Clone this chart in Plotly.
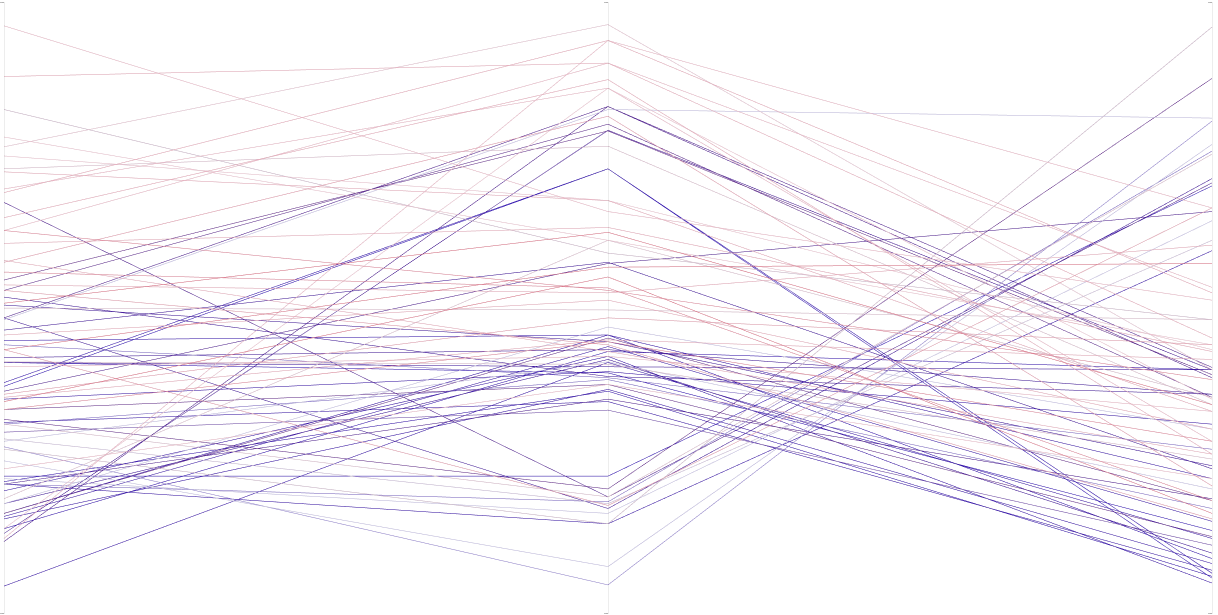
import plotly.graph_objects as go

# Values on three parallel axes (0-100 scale), one entry per line
axis_a = [37.1, 37.7, 4.4, 44.6, 41.0, 31.2, 22.4, 21.5, 15.8, 13.8, 21.1, 16.3, 51.7, 41.0, 20.0, 29.6,
          27.2, 24.9, 11.7, 48.3, 13.0, 67.2, 52.8, 36.3, 48.3, 21.1, 31.7, 50.4, 33.3, 16.3,
          96.1, 87.8, 82.4, 77.9, 76.3, 72.7, 72.2, 69.4, 68.8, 64.7, 62.6, 60.5, 57.4, 55.8, 53.7,
          50.7, 45.5, 43.1, 34.6, 33.3, 49.9, 40.3, 28.1, 17.9, 13.8, 12.2, 26.8, 43.1, 30.9, 22.0,
          48.0, 57.7, 35.8, 23.6, 74.8, 18.7,
          41.8, 35.0, 30.9, 41.1, 52.8, 17.9, 15.4, 54.5, 46.3, 28.5, 35.3, 62.6, 21.1, 43.9]
axis_b = [72.7, 72.7, 41.0, 45.5, 39.3, 34.6, 22.4, 36.3, 43.6, 42.8, 14.6, 45.5, 38.7, 40.3, 42.0, 33.2,
          4.6, 7.6, 82.9, 82.9, 79.0, 19.0, 80.0, 57.2, 17.1, 18.2, 20.3, 44.4, 37.4, 45.0,
          65.7, 90.0, 58.9, 61.0, 96.3, 76.4, 67.5, 85.9, 93.7, 87.3, 90.0, 63.1, 81.3, 53.2, 52.4,
          62.3, 51.2, 56.6, 55.0, 44.4, 49.6, 42.0, 41.1, 46.8, 85.9, 93.7, 14.6, 17.6, 19.0, 16.3,
          82.4, 42.8, 48.3, 37.4, 67.5, 61.0,
          43.1, 39.5, 38.2, 40.7, 43.9, 41.5, 36.6, 78.9, 57.4, 17.9, 44.7, 52.8, 35.0, 38.5]
axis_c = [5.7, 6.5, 12.2, 8.9, 13.5, 7.0, 69.9, 6.0, 15.0, 39.8, 59.3, 22.0, 35.8, 39.8, 4.9, 11.1,
          80.5, 76.7, 38.5, 40.2, 39.8, 70.4, 35.3, 65.7, 71.1, 75.6, 87.5, 24.1, 12.5, 18.4,
          51.2, 45.0, 48.0, 43.9, 39.8, 34.1, 33.0, 28.1, 52.4, 26.0, 53.3, 42.8, 20.8, 18.4, 60.2,
          34.1, 30.1, 57.2, 16.3, 28.1, 48.0, 33.0, 20.3, 30.1, 35.0, 66.3, 95.9, 66.3, 75.1, 64.2,
          81.0, 26.0, 43.9, 22.0, 43.1, 35.3,
          35.8, 30.9, 17.1, 25.2, 15.4, 9.8, 8.1, 39.0, 23.6, 61.0, 41.5, 38.2, 18.7, 26.8]
line_value = [0.0, 0.02, 0.05, 0.03, 0.0, 0.05, 0.0, 0.03, 0.05, 0.02, 0.05, 0.05, 0.1, 0.08, 0.05, 0.25,
              0.35, 0.45, 0.15, 0.15, 0.12, 0.15, 0.18, 0.15, 0.1, 0.3, 0.2, 0.1, 0.2, 0.2,
              0.75, 0.8, 0.55, 0.7, 0.65, 0.6, 0.8, 0.75, 0.8, 0.8, 0.75, 0.8, 0.85, 0.9, 0.8,
              0.95, 0.8, 0.95, 0.95, 0.9, 0.6, 0.75, 0.45, 0.45, 0.7, 0.75, 0.55, 0.85, 0.6, 0.45,
              0.45, 0.8, 0.85, 0.75, 0.7, 0.6,
              0.1, 0.05, 0.3, 0.6, 0.85, 0.1, 0.05, 0.2, 0.1, 0.5, 0.8, 0.9, 0.15, 0.3]

colorscale = [
    [0.0, 'rgb(45,15,180)'],
    [0.12, 'rgb(70,25,150)'],
    [0.2, 'rgb(100,45,140)'],
    [0.3, 'rgb(125,105,200)'],
    [0.45, 'rgb(195,190,228)'],
    [0.55, 'rgb(205,180,200)'],
    [0.7, 'rgb(238,195,208)'],
    [0.85, 'rgb(228,155,172)'],
    [1.0, 'rgb(218,90,112)'],
]

hidden = dict(color='rgba(0,0,0,0)', size=1)

fig = go.Figure(go.Parcoords(
    line=dict(color=line_value, colorscale=colorscale, cmin=0, cmax=1, showscale=False),
    dimensions=[
        dict(values=axis_a, range=[0, 100], label='', tickvals=[]),
        dict(values=axis_b, range=[0, 100], label='', tickvals=[]),
        dict(values=axis_c, range=[0, 100], label='', tickvals=[]),
    ],
    labelfont=hidden, tickfont=hidden, rangefont=hidden,
))
fig.update_layout(
    width=1218, height=615,
    margin=dict(l=4, r=6, t=0, b=0),
    paper_bgcolor='white', plot_bgcolor='white',
)

post = """
document.body.style.margin = '0';
document.body.style.overflow = 'hidden';
var gd = document.getElementById('{plot_id}');
function faint() {
  gd.querySelectorAll('path.domain').forEach(function (p) {
    p.style.strokeOpacity = '0.07';
  });
}
faint();
setTimeout(faint, 100);
setTimeout(faint, 600);
"""
fig.write_html("out.html", post_script=post, config={'displayModeBar': False})
